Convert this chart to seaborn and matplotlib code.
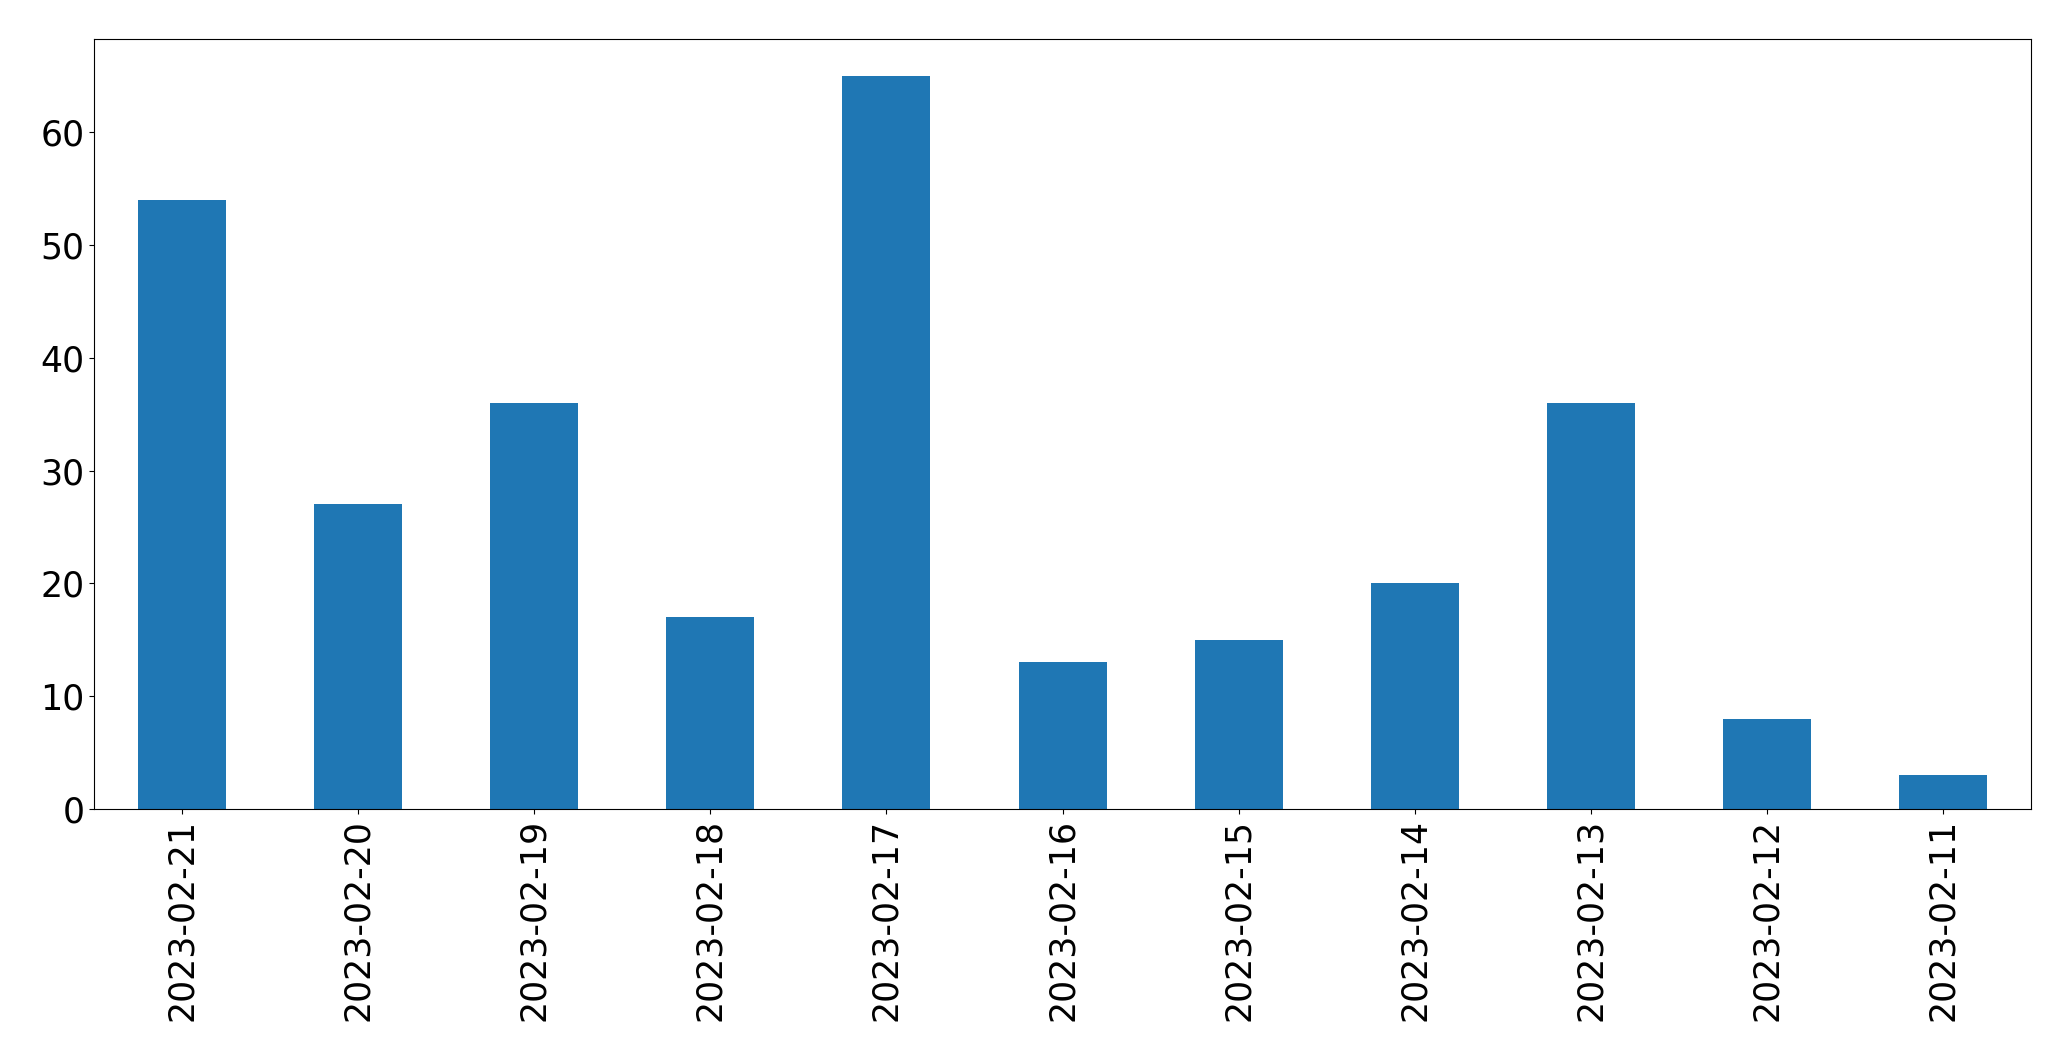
import pandas as pd
import numpy as np
import matplotlib
matplotlib.use("Agg")
import matplotlib.pyplot as plt
import seaborn as sns

dates = ["2023-02-21", "2023-02-20", "2023-02-19", "2023-02-18", "2023-02-17",
         "2023-02-16", "2023-02-15", "2023-02-14", "2023-02-13", "2023-02-12",
         "2023-02-11"]
counts = [54, 27, 36, 17, 65, 13, 15, 20, 36, 8, 3]

df = pd.DataFrame({"date": dates, "count": counts})

fig, ax = plt.subplots(figsize=(20.71, 10.61), dpi=100)
sns.barplot(data=df, x="date", y="count", color="#1f77b4", saturation=1,
            width=0.5, ax=ax)

ax.set_xlim(-0.5, len(dates) - 0.5)
ax.set_ylim(0, max(counts) * 1.05)
ax.set_xlabel("")
ax.set_ylabel("")
ax.tick_params(axis="x", labelrotation=90, labelsize=25)
ax.tick_params(axis="y", labelsize=25)

plt.subplots_adjust(left=0.0454, right=0.9807, top=0.9632, bottom=0.2375)
plt.savefig("out.png", dpi=100)
